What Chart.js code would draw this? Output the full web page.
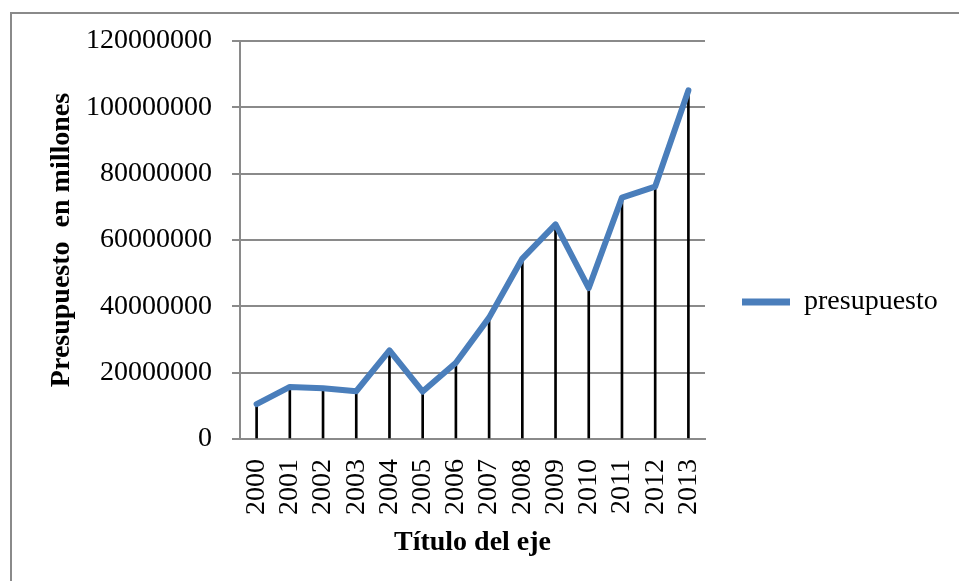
<!DOCTYPE html>
<html>
<head>
<meta charset="utf-8">
<script src="https://cdn.jsdelivr.net/npm/chart.js@4.4.1/dist/chart.umd.min.js"></script>
<style>
  html, body { margin: 0; padding: 0; background: #fff; }
  #wrap { position: relative; width: 959px; height: 581px; overflow: hidden; }
  #frame { position: absolute; left: 10px; top: 12px; width: 2000px; height: 2000px;
           border-top: 2px solid #8a8a8a; border-left: 2px solid #8a8a8a; }
  #presupuestoChart { position: absolute; left: 0; top: 0; }
</style>
</head>
<body>
<div id="wrap">
  <div id="frame"></div>
  <canvas id="presupuestoChart" width="959" height="581"></canvas>
</div>
<script>
// datos
const years = ['2000', '2001', '2002', '2003', '2004', '2005', '2006',
               '2007', '2008', '2009', '2010', '2011', '2012', '2013'];
const presupuesto = [10500000, 15700000, 15300000, 14400000, 26700000, 14300000, 23000000,
                     36600000, 54400000, 64700000, 45500000, 72800000, 76100000, 105100000];
const yTicks = [0, 20000000, 40000000, 60000000, 80000000, 100000000, 120000000];

const serif = 'Liberation Serif';
const azul = '#4a7ebb';
const gris = '#8a8a8a';

const ctx = document.getElementById('presupuestoChart').getContext('2d');
const chart = new Chart(ctx, {
    type: 'line',
    data: {
        labels: years,
        datasets: [{
            label: 'presupuesto',
            data: presupuesto,
            borderColor: azul,
            backgroundColor: azul,
            borderWidth: 6,
            borderCapStyle: 'round',
            borderJoinStyle: 'round',
            pointRadius: 0,
            tension: 0,
            fill: false,
            order: 0
        }, {
            // lineas de caida desde cada punto hasta el eje
            type: 'bar',
            label: 'caida',
            data: presupuesto,
            backgroundColor: '#000',
            barThickness: 2,
            order: 1
        }]
    },
    options: {
        responsive: false,
        animation: false,
        layout: { padding: { top: 41, bottom: 18, left: 0, right: 19 } },
        plugins: {
            tooltip: { enabled: false },
            legend: {
                position: 'right',
                labels: {
                    font: { family: serif, size: 28 },
                    color: '#000',
                    boxWidth: 48,
                    boxHeight: 7,
                    padding: 37,
                    filter: item => item.datasetIndex === 0,
                    generateLabels: c => Chart.defaults.plugins.legend.labels.generateLabels(c)
                        .map(l => Object.assign(l, { lineWidth: 0, fillStyle: azul }))
                }
            }
        },
        scales: {
            x: {
                offset: true,
                afterFit: axis => { axis.height = 124; },
                grid: { display: false, drawTicks: false },
                border: { display: true, color: gris, width: 2 },
                ticks: {
                    font: { family: serif, size: 28 },
                    color: '#000',
                    minRotation: 90,
                    maxRotation: 90,
                    padding: 20,
                    autoSkip: false
                },
                title: {
                    display: true,
                    text: 'Título del eje',
                    font: { family: serif, size: 28, weight: 'bold' },
                    color: '#000',
                    padding: { top: 4, bottom: 3 }
                }
            },
            y: {
                min: 0,
                max: 120000000,
                afterBuildTicks: axis => { axis.ticks = yTicks.map(v => ({ value: v })); },
                afterFit: axis => { axis.width = 240; },
                grid: { color: gris, lineWidth: 2, tickLength: 8 },
                border: { display: true, color: gris, width: 2 },
                ticks: {
                    font: { family: serif, size: 28 },
                    color: '#000',
                    padding: 20,
                    callback: v => String(v)
                },
                title: {
                    display: true,
                    text: 'Presupuesto  en millones',
                    font: { family: serif, size: 28, weight: 'bold' },
                    color: '#000',
                    padding: { top: 45, bottom: 4 }
                }
            }
        }
    }
});
</script>
</body>
</html>
